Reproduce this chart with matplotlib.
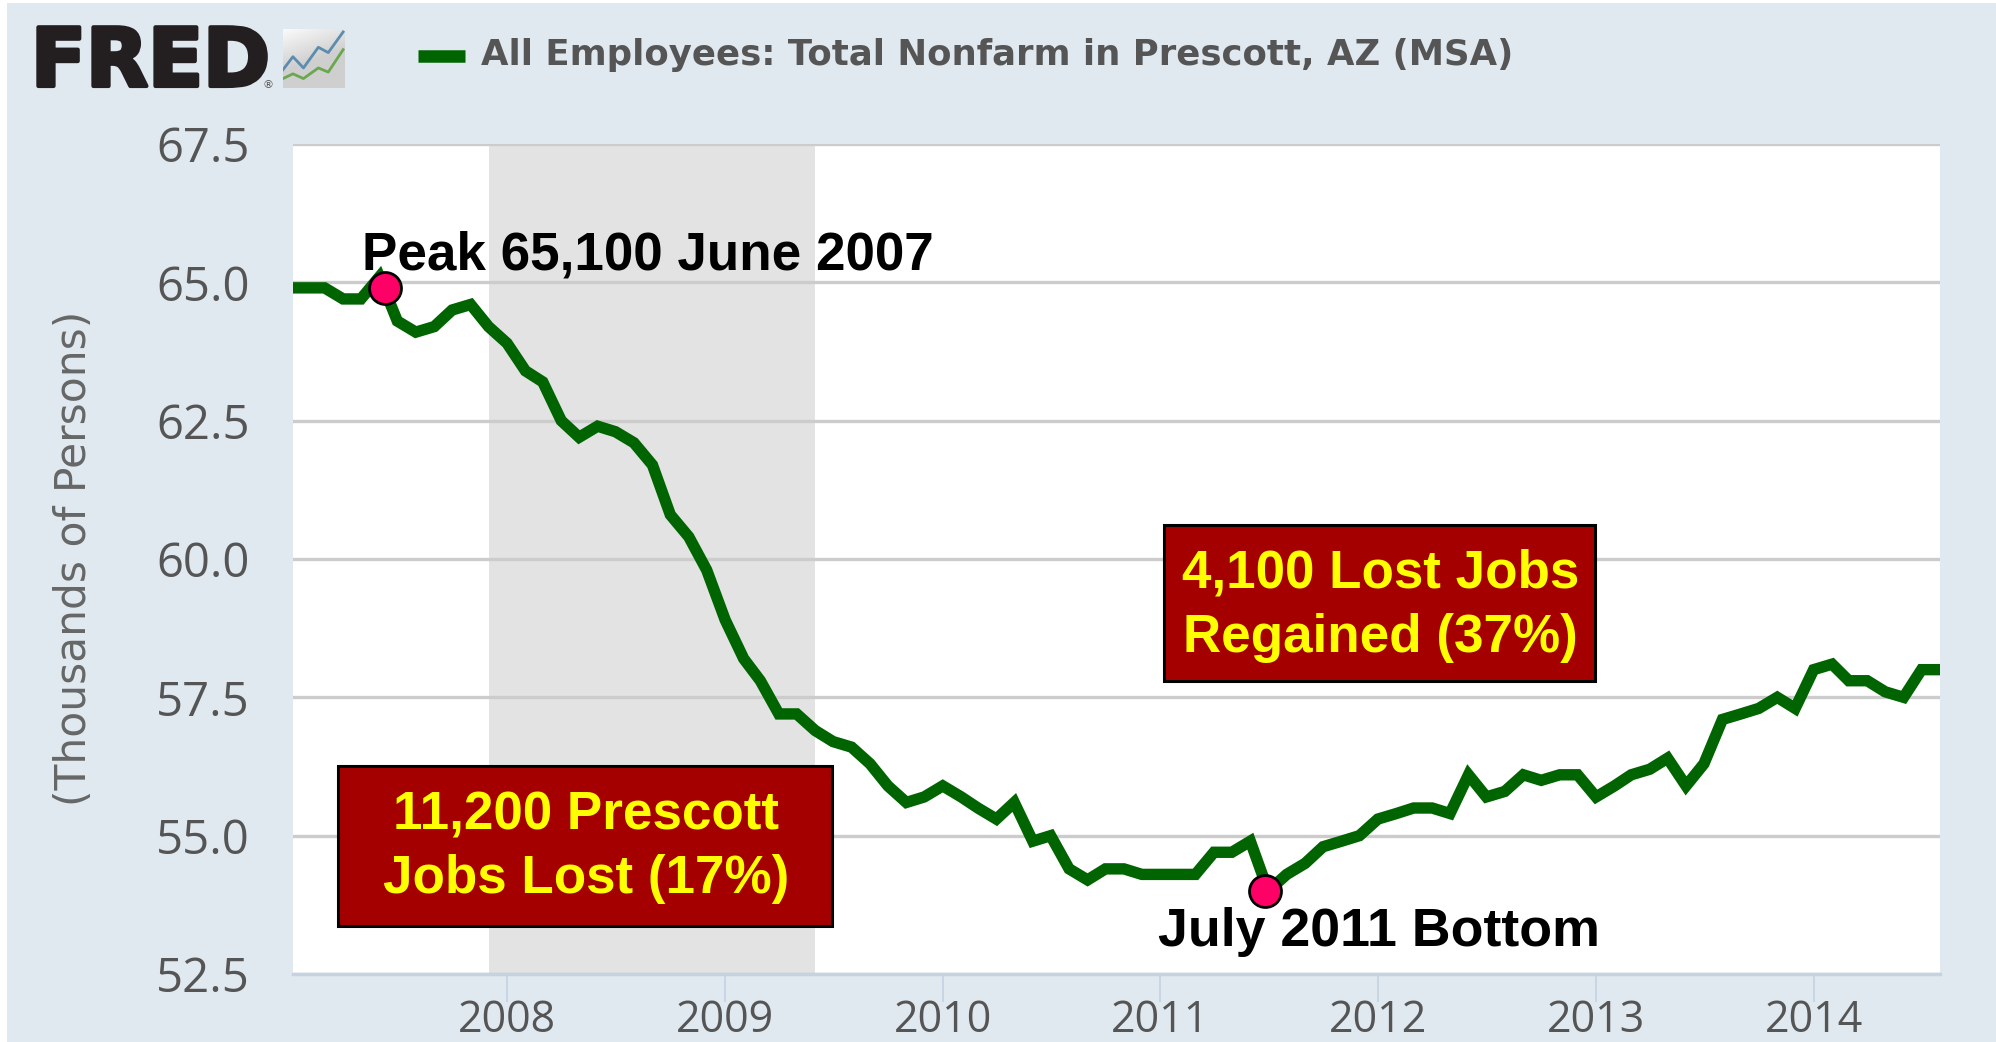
import numpy as np
import pandas as pd
from matplotlib import pyplot as plt
from matplotlib.patches import Rectangle
from matplotlib.lines import Line2D
import matplotlib.patheffects as pe

W, H = 1996, 1042

# monthly values, Jan 2007 - Aug 2014
jobs_2007 = [64.9, 64.9, 64.9, 64.7, 64.7, 65.1, 64.3, 64.1, 64.2, 64.5, 64.6, 64.2]
jobs_2008 = [63.9, 63.4, 63.2, 62.5, 62.2, 62.4, 62.3, 62.1, 61.7, 60.8, 60.4, 59.8]
jobs_2009 = [58.9, 58.2, 57.8, 57.2, 57.2, 56.9, 56.7, 56.6, 56.3, 55.9, 55.6, 55.7]
jobs_2010 = [55.9, 55.7, 55.5, 55.3, 55.6, 54.9, 55.0, 54.4, 54.2, 54.4, 54.4, 54.3]
jobs_2011 = [54.3, 54.3, 54.3, 54.7, 54.7, 54.9, 54.0, 54.3, 54.5, 54.8, 54.9, 55.0]
jobs_2012 = [55.3, 55.4, 55.5, 55.5, 55.4, 56.1, 55.7, 55.8, 56.1, 56.0, 56.1, 56.1]
jobs_2013 = [55.7, 55.9, 56.1, 56.2, 56.4, 55.9, 56.3, 57.1, 57.2, 57.3, 57.5, 57.3]
jobs_2014 = [58.0, 58.1, 57.8, 57.8, 57.6, 57.5, 58.0, 58.0]
jobs = jobs_2007 + jobs_2008 + jobs_2009 + jobs_2010 + jobs_2011 + jobs_2012 + jobs_2013 + jobs_2014
dates = pd.date_range("2007-01-01", periods=len(jobs), freq="MS")

y_ticks = [52.5, 55.0, 57.5, 60.0, 62.5, 65.0, 67.5]
x_years = [2008, 2009, 2010, 2011, 2012, 2013, 2014]
recession = ("2007-12-01", "2009-06-01")
marker_dates = ["2007-06-10", "2011-06-25"]
marker_values = [64.9, 54.0]

# little chart in the logo
icon_x = [0.0, 0.16, 0.33, 0.57, 0.73, 0.97]
icon_blue = [0.31, 0.53, 0.34, 0.69, 0.60, 0.95]
icon_green = [0.16, 0.24, 0.16, 0.34, 0.27, 0.65]

BG = "#e1e9f0"
GREEN = "#006400"
GRID = "#cccccc"
AXIS = "#c4d2e2"
TXT = "#555555"


def px(x, y):
    return x / W, 1 - y / H


fig = plt.figure(figsize=(W / 100, H / 100), dpi=100, facecolor="white")
fig.patches.append(Rectangle(px(7, H), (W - 7) / W, (H - 3) / H, transform=fig.transFigure,
                             facecolor=BG, edgecolor="none", zorder=-5))

ax = fig.add_axes([293 / W, 1 - 974 / H, (1940 - 293) / W, (974 - 144) / H])
ax.set_facecolor("white")
ax.set_xlim(pd.Timestamp("2007-01-07"), pd.Timestamp("2014-08-01"))
ax.set_ylim(52.5, 67.5)

ax.axvspan(pd.Timestamp(recession[0]), pd.Timestamp(recession[1]), color="#e3e3e3", lw=0, zorder=1)
ax.set_yticks(y_ticks)
ax.set_yticklabels([f"{v:.1f}" for v in y_ticks], fontfamily="Open Sans", fontsize=34, color=TXT)
ax.set_xticks([pd.Timestamp(f"{y}-01-01") for y in x_years])
ax.set_xticklabels([str(y) for y in x_years], fontfamily="Open Sans", fontsize=31, color=TXT)
ax.tick_params(axis="y", length=0, pad=31)
ax.tick_params(axis="x", length=20, width=1.2, color=AXIS, pad=-2)
ax.grid(axis="y", color=GRID, lw=2.4)
ax.set_axisbelow("line")
for name, spine in ax.spines.items():
    spine.set_visible(name == "bottom")
ax.spines["bottom"].set_color(AXIS)
ax.spines["bottom"].set_linewidth(2.5)

ax.plot(dates, jobs, color=GREEN, lw=8.2, solid_joinstyle="miter", zorder=3)
ax.plot(pd.to_datetime(marker_dates), marker_values, "o", ms=23, mfc="#ff0066", mec="black", mew=2,
        zorder=5, clip_on=False)

# annotation texts
BOLD = dict(family="Liberation Sans", weight="bold", zorder=7)
fig.text(*px(362, 256), "Peak 65,100 June 2007", fontsize=38.2, color="black", ha="left", va="center", **BOLD)
fig.text(*px(1379, 932), "July 2011 Bottom", fontsize=38.7, color="black", ha="center", va="center", **BOLD)

for x0, y0, x1, y1, lines in [(338, 766, 832, 926, ["11,200 Prescott", "Jobs Lost (17%)"]),
                              (1164, 525, 1595, 681, ["4,100 Lost Jobs", "Regained (37%)"])]:
    fig.patches.append(Rectangle(px(x0, y1), (x1 - x0) / W, (y1 - y0) / H, transform=fig.transFigure,
                                 facecolor="#a50000", edgecolor="black", lw=2.2, zorder=6))
    xc = (x0 + x1) / 2
    fig.text(*px(xc + 1, y0 + 49), lines[0], fontsize=38.2, color="#ffff00", ha="center", va="center", **BOLD)
    fig.text(*px(xc + 1, y0 + 113), lines[1], fontsize=38.2, color="#ffff00", ha="center", va="center", **BOLD)

fig.text(*px(74, 558), "(Thousands of Persons)", rotation=90, fontsize=30.5, color="#666666",
         family="DejaVu Sans", ha="center", va="center")

# legend
fig.add_artist(Line2D([418 / W, 465 / W], [1 - 56 / H] * 2, color=GREEN, lw=9, solid_capstyle="butt"))
fig.text(*px(481, 55), "All Employees: Total Nonfarm in Prescott, AZ (MSA)", fontsize=25.6, color=TXT,
         family="DejaVu Sans", weight="bold", ha="left", va="center")

# FRED logo
fig.text(*px(31, 64), "FRED", fontsize=58, color="#231f20", family="DejaVu Sans", weight="bold",
         ha="left", va="center", path_effects=[pe.withStroke(linewidth=3, foreground="#231f20")])
fig.text(*px(268, 85), "®", fontsize=8, color="#555555", family="DejaVu Sans", ha="center", va="center")
icon = fig.add_axes([283 / W, 1 - 88 / H, 62 / W, 59 / H])
icon.set_xlim(0, 1)
icon.set_ylim(0, 1)
icon.axis("off")
h, v = np.meshgrid(np.linspace(0, 1, 64), np.linspace(0, 1, 64))
icon.imshow(0.98 - 0.17 * np.clip(1.4 * v + 0.5 * h, 0, 1), extent=(0, 1, 0, 1), aspect="auto",
            cmap="gray", vmin=0, vmax=1, zorder=0)
icon.plot(icon_x, icon_blue, color="#5b8db0", lw=2)
icon.plot(icon_x, icon_green, color="#6aa84f", lw=2)

fig.savefig("out.png", dpi=100, facecolor=fig.get_facecolor())
